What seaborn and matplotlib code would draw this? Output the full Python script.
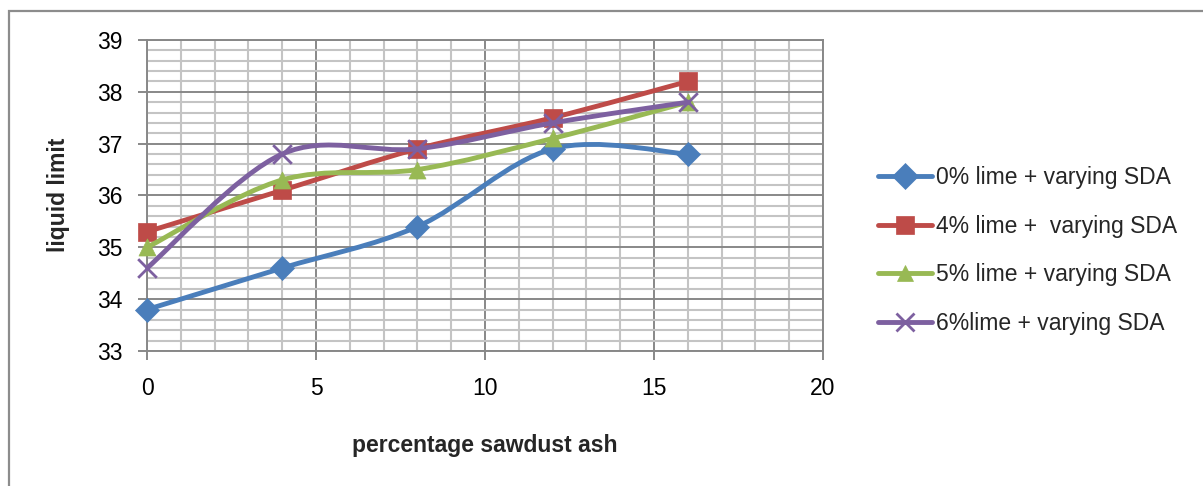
import matplotlib
matplotlib.use("Agg")
from matplotlib import pyplot as plt
from matplotlib.path import Path
from matplotlib.patches import PathPatch, Rectangle
from matplotlib.lines import Line2D
from matplotlib.ticker import MultipleLocator
import numpy as np
import pandas as pd
import seaborn as sns

# data
sda = [0, 4, 8, 12, 16]
lime0 = [33.8, 34.6, 35.4, 36.9, 36.8]
lime4 = [35.3, 36.1, 36.9, 37.5, 38.2]
lime5 = [35.0, 36.3, 36.5, 37.1, 37.8]
lime6 = [34.6, 36.8, 36.9, 37.4, 37.8]
labels = ["0% lime + varying SDA", "4% lime +  varying SDA",
          "5% lime + varying SDA", "6%lime + varying SDA"]

colors = ["#4A7EBB", "#BE4B48", "#98B954", "#7D60A0"]
markers = ["D", "s", "^", "x"]
sizes = [150, 170, 150, 180]

sns.set_theme(style="white")
plt.rcParams['font.family'] = ['Liberation Sans', 'DejaVu Sans']


def smooth_path(x, y):
    # excel style smoothed line: cubic bezier through every point
    pts = np.column_stack([x, y]).astype(float)
    n = len(pts)
    verts = [pts[0]]
    codes = [Path.MOVETO]
    for i in range(n - 1):
        p0 = pts[i - 1] if i > 0 else pts[i]
        p1 = pts[i]
        p2 = pts[i + 1]
        p3 = pts[i + 2] if i + 2 < n else pts[i + 1]
        c1 = p1 + (p2 - p0) / 6.0
        c2 = p2 - (p3 - p1) / 6.0
        verts += [c1, c2, p2]
        codes += [Path.CURVE4] * 3
    return Path(verts, codes)


fig = plt.figure(figsize=(12.03, 4.86), dpi=100)
ax = fig.add_axes([0.1222, 0.2778, 0.5619, 0.6399])

# chart area border like excel
fig.patches.append(Rectangle((0.0075, -0.1), 1.2, 1.077, transform=fig.transFigure,
                             fill=False, edgecolor="#8c8c8c", linewidth=1.6))

series = [lime0, lime4, lime5, lime6]
for k, vals in enumerate(series):
    df = pd.DataFrame({"x": sda, "y": vals})
    patch = PathPatch(smooth_path(df.x, df.y), facecolor="none",
                      edgecolor=colors[k], linewidth=3.5, zorder=3 + k,
                      capstyle="round", joinstyle="round")
    ax.add_patch(patch)
    if markers[k] == "x":
        sns.scatterplot(data=df, x="x", y="y", ax=ax, marker="x", s=sizes[k],
                        color=colors[k], linewidth=2.0, zorder=3.5 + k,
                        clip_on=False)
    else:
        sns.scatterplot(data=df, x="x", y="y", ax=ax, marker=markers[k],
                        s=sizes[k], color=colors[k], edgecolor=colors[k],
                        linewidth=0.5, zorder=3.5 + k, clip_on=False)

ax.set_xlim(0, 20)
ax.set_ylim(33, 39)
ax.xaxis.set_major_locator(MultipleLocator(5))
ax.xaxis.set_minor_locator(MultipleLocator(1))
ax.yaxis.set_major_locator(MultipleLocator(1))
ax.yaxis.set_minor_locator(MultipleLocator(0.2))
ax.grid(which="minor", color="#c4c4c4", linewidth=1.5, zorder=0)
ax.grid(which="major", color="#888888", linewidth=1.4, zorder=1)
ax.set_axisbelow(True)
for s in ax.spines.values():
    s.set_color("#888888")
    s.set_linewidth(1.4)

ax.tick_params(axis="both", which="major", direction="out", length=6.5,
               width=1.4, color="#888888", labelsize=16.5, labelcolor="black",
               bottom=True, left=True)
ax.tick_params(axis="x", which="major", pad=12)
ax.tick_params(axis="y", which="major", pad=11)
ax.tick_params(which="minor", length=0)
ax.set_yticks([33, 34, 35, 36, 37, 38, 39])
ax.set_xticks([0, 5, 10, 15, 20])
ax.set_xlabel("")
ax.set_ylabel("")

fig.text(485 / 1203, 1 - 445 / 486, "percentage sawdust ash", fontsize=16.5,
         fontweight="bold", ha="center", va="center")
fig.text(59 / 1203, 1 - 195 / 486, "liquid limit", fontsize=16.5,
         fontweight="bold", ha="center", va="center", rotation=90)

handles = [Line2D([0], [0], color=colors[k], linewidth=3.5, marker=markers[k],
                  markersize=13 if markers[k] != "^" else 12,
                  markeredgewidth=2.0 if markers[k] == "x" else 0.5,
                  markeredgecolor=colors[k])
           for k in range(4)]
fig.legend(handles, labels, loc="center left", bbox_to_anchor=(0.7124, 0.4846),
           frameon=False, fontsize=16.5, handlelength=2.36, handletextpad=0.17,
           labelspacing=1.115)

fig.savefig("out.png", dpi=100)
